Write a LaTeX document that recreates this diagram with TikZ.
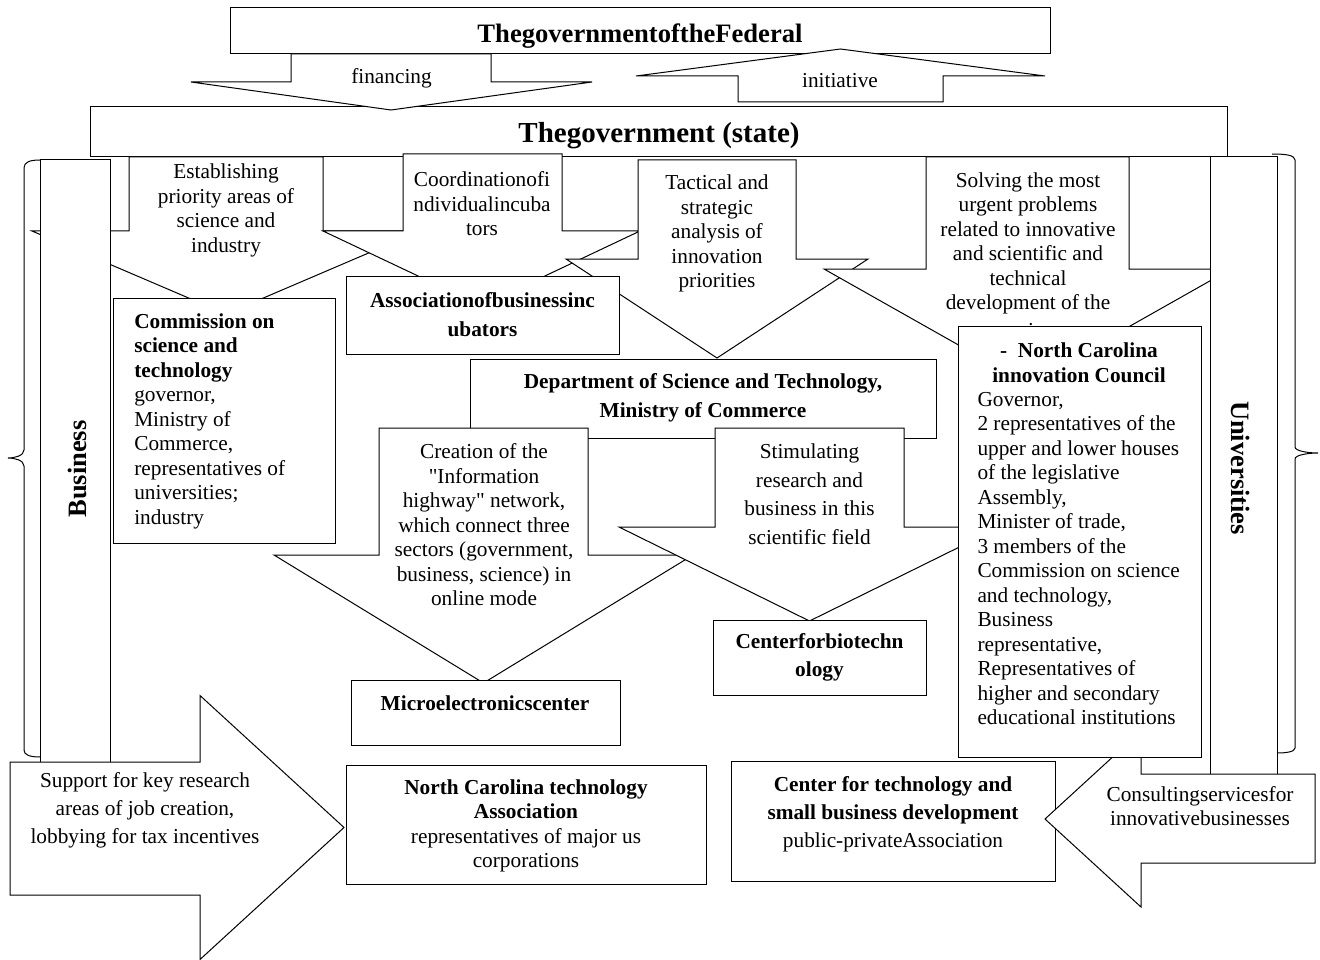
\documentclass[tikz,border=0pt]{standalone}
\usepackage{fontspec}
\setmainfont{Liberation Serif}[Ligatures=TeXOff]
\begin{document}
\begin{tikzpicture}[x=1pt,y=-1pt,line width=1pt,
  blk/.style={draw=black,fill=white,line join=miter},
  txt/.style={inner sep=0pt,align=center,font={\fontsize{21.3}{24.5}\selectfont}},
  txtw/.style={inner sep=0pt,align=center,font={\fontsize{21.3}{27.8}\selectfont}},
  txtf/.style={inner sep=0pt,align=center,font={\fontsize{21.3}{28.5}\selectfont}},
  btxt/.style={inner sep=0pt,align=center,font={\fontsize{21.3}{24.5}\selectfont\bfseries}},
  btxtw/.style={inner sep=0pt,align=center,font={\fontsize{21.3}{28.5}\selectfont\bfseries}},
  lefttxt/.style={inner sep=0pt,align=left,anchor=west,font={\fontsize{21.3}{24.5}\selectfont}},
  ttlfed/.style={inner sep=0pt,font={\fontsize{26.6}{30}\selectfont\bfseries}},
  ttlstate/.style={inner sep=0pt,font={\fontsize{29}{32}\selectfont\bfseries}},
  ttlside/.style={inner sep=0pt,font={\fontsize{26.5}{30}\selectfont\bfseries}},
  brace/.style={draw=black,line width=1pt}]
\fill[white] (0,0) rectangle (1320,960);
\useasboundingbox (0,0) rectangle (1320,960);

% top boxes
\draw[blk] (230,8) rectangle (1050,54);
\node[ttlfed,anchor=base] (fed) at (640,42.7) {ThegovernmentoftheFederal};
\draw[blk] (90,107) rectangle (1227,157);
\node[ttlstate,anchor=base] (state) at (659,143) {Thegovernment (state)};

% financing / initiative
\draw[blk] (291,54) -- (291,82) -- (191,82) -- (391,110) -- (592,82) -- (491,82) -- (491,54) -- cycle;
\node[txt] (fin) at (391.5,78) {financing};
\draw[blk] (738,102) -- (738,76) -- (636,76) -- (840.5,49) -- (1045,76) -- (943,76) -- (943,102) -- cycle;
\node[txt] (ini) at (840,81) {initiative};

% arrow A
\draw[blk] (129,157) -- (129,231) -- (32,231) -- (226,314) -- (420,231) -- (323,231) -- (323,157) -- cycle;
\node[txt] (ta) at (226,210.5) {Establishing\\priority areas of\\science and\\industry};

% arrow B
\draw[blk] (403,154) -- (403,231) -- (323,231) -- (481.5,306) -- (640,231) -- (562,231) -- (562,154) -- cycle;
\node[txt] (tb) at (482,204) {Coordinationofi\\ndividualincuba\\tors};

% arrow C
\draw[blk] (638,160) -- (638,259) -- (566,259) -- (717,358) -- (868,259) -- (796,259) -- (796,160) -- cycle;
\node[txt] (tc) at (717,233.5) {Tactical and\\strategic\\analysis of\\innovation\\priorities};

% arrow D
\draw[blk] (926,157) -- (926,269) -- (824,269) -- (1027.5,384) -- (1231,269) -- (1129,269) -- (1129,157) -- cycle;
\node[txt] (td) at (1028,257) {Solving the most\\urgent problems\\related to innovative\\and scientific and\\technical\\development of the\\[3pt]region};

% side bars
\draw[blk] (40,160) rectangle (110.7,762);
\node[ttlside,rotate=90] (bus) at (77,469) {Business};
\draw[blk] (1210,157) rectangle (1277,774);
\node[ttlside,rotate=-90] (uni) at (1241,468) {Universities};

% braces
\draw[brace] (40,160) .. controls (30,160) and (24,162) .. (24,168) -- (24,450)
  .. controls (24,456) and (14,458) .. (8,458) .. controls (14,458) and (24,460) .. (24,466)
  -- (24,750) .. controls (24,755) and (30,757) .. (40,757);
\draw[brace] (1272,154) .. controls (1285,154) and (1295,155) .. (1295,160) -- (1295,447)
  .. controls (1295,451) and (1308,453) .. (1318,453) .. controls (1308,453) and (1295,455) .. (1295,459)
  -- (1295,748) .. controls (1295,752) and (1285,753) .. (1277,753);

% commission
\draw[blk] (113,298) rectangle (335,543);
\node[lefttxt] (tcomm) at (133.8,421) {\textbf{Commission on}\\\textbf{science and}\\\textbf{technology}\\governor,\\Ministry of\\Commerce,\\representatives of\\universities;\\industry};

% association
\draw[blk] (346,276) rectangle (619,354);
\node[btxtw] (tassoc) at (482.5,314.5) {Associationofbusinessinc\\ubators};

% department
\draw[blk] (470,359) rectangle (936,438);
\node[btxtw] (tdep) at (703,398) {Department of Science and Technology,\\Ministry of Commerce};

% arrow E
\draw[blk] (379,428) -- (379,555) -- (274,555) -- (483.5,683) -- (693,555) -- (588,555) -- (588,428) -- cycle;
\node[txt] (te) at (484,525) {Creation of the\\"Information\\highway" network,\\which connect three\\sectors (government,\\business, science) in\\online mode};

% arrow F
\draw[blk] (715,428) -- (715,527) -- (619,527) -- (809.5,621) -- (1000,527) -- (904,527) -- (904,428) -- cycle;
\node[txtf] (tf) at (809.5,494) {Stimulating\\research and\\business in this\\scientific field};

% microelectronics / biotech
\draw[blk] (351,680) rectangle (620,745);
\node[btxt] (tmic) at (485,703) {Microelectronicscenter};
\draw[blk] (713,620) rectangle (926,695);
\node[btxtw] (tbio) at (819.5,657.5) {Centerforbiotechn\\ology};

% support arrow
\draw[blk] (10,762) -- (200,762) -- (200,695.5) -- (344,827.5) -- (200,959.5) -- (200,895) -- (10,895) -- cycle;
\node[txtw] (tsup) at (145,810) {Support for key research\\areas of job creation,\\lobbying for tax incentives};

% NC technology association
\draw[blk] (346,765) rectangle (706,884);
\node[txt] (tnc) at (526,826) {\textbf{North Carolina technology}\\\textbf{Association}\\representatives of major us\\corporations};

% center for technology
\draw[blk] (731,761) rectangle (1055,881);
\node[txtw] (tctr) at (893,814) {\textbf{Center for technology and}\\\textbf{small business development}\\public-privateAssociation};

% consulting arrow
\draw[blk] (1315,774) -- (1141,774) -- (1141,731) -- (1045,819) -- (1141,907) -- (1141,863) -- (1315,863) -- cycle;
\node[txt] (tcons) at (1200,806) {Consultingservicesfor\\innovativebusinesses};

% council
\draw[blk] (958,326) rectangle (1201,757);
\node[btxt] (tcb) at (1079,362.5) {- \ North Carolina\\innovation Council};
\node[lefttxt] (tcr) at (977,558.5) {Governor,\\2 representatives of the\\upper and lower houses\\of the legislative\\Assembly,\\Minister of trade,\\3 members of the\\Commission on science\\and technology,\\Business\\representative,\\Representatives of\\higher and secondary\\educational institutions};
\end{tikzpicture}
\end{document}
